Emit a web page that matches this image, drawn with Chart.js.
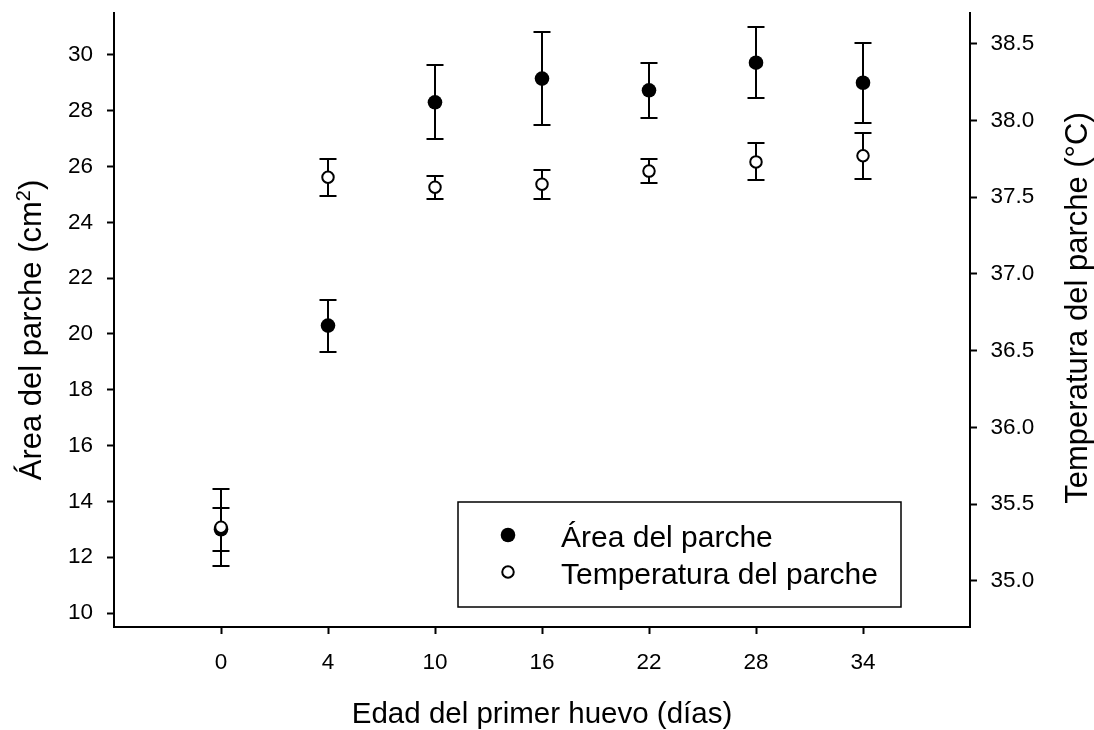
<!DOCTYPE html>
<html>
<head>
<meta charset="utf-8">
<title>Área y temperatura del parche</title>
<script src="https://cdn.jsdelivr.net/npm/chart.js@4.4.0/dist/chart.umd.min.js"></script>
<style>
  html, body { margin: 0; padding: 0; background: #fff; }
</style>
</head>
<body>
<canvas id="grafico" width="1094" height="730"></canvas>
<script>
// Edad del primer huevo (días)
var dias = ['0', '4', '10', '16', '22', '28', '34'];

// Área del parche (cm2): media y error
var area = [13.0, 20.3, 28.3, 29.15, 28.73, 29.72, 29.0];
var areaErr = [0.76, 0.93, 1.32, 1.67, 0.99, 1.27, 1.43];

// Temperatura del parche (°C): media y error
var temp = [35.35, 37.63, 37.565, 37.585, 37.67, 37.73, 37.77];
var tempErr = [0.25, 0.12, 0.075, 0.095, 0.076, 0.12, 0.15];

var areaTicks = [10, 12, 14, 16, 18, 20, 22, 24, 26, 28, 30];
var tempTicks = [35.0, 35.5, 36.0, 36.5, 37.0, 37.5, 38.0, 38.5];

var tituloX = 'Edad del primer huevo (días)';
var tituloArea = 'Área del parche (cm';
var tituloTemp = 'Temperatura del parche (°C)';

var fuente = '"Liberation Sans", Arial, Helvetica, sans-serif';

function puntos(valores) {
    return valores.map(function (v, i) { return { x: i, y: v }; });
}

// barras de error, debajo de los puntos
var barrasError = {
    id: 'barrasError',
    beforeDatasetsDraw: function (chart) {
        var ctx = chart.ctx;
        var sx = chart.scales.x;
        ctx.save();
        ctx.strokeStyle = '#000';
        ctx.lineWidth = 2;
        chart.data.datasets.forEach(function (ds) {
            var sy = chart.scales[ds.yAxisID];
            ds.data.forEach(function (p, i) {
                var px = Math.round(sx.getPixelForValue(p.x));
                var arriba = Math.round(sy.getPixelForValue(p.y + ds.err[i]));
                var abajo = Math.round(sy.getPixelForValue(p.y - ds.err[i]));
                ctx.beginPath();
                ctx.moveTo(px, arriba); ctx.lineTo(px, abajo);
                ctx.moveTo(px - 8.5, arriba); ctx.lineTo(px + 8.5, arriba);
                ctx.moveTo(px - 8.5, abajo); ctx.lineTo(px + 8.5, abajo);
                ctx.stroke();
            });
        });
        ctx.restore();
    }
};

// títulos de los ejes (el del área lleva el 2 en superíndice)
var titulos = {
    id: 'titulos',
    afterDraw: function (chart) {
        var ctx = chart.ctx;
        var a = chart.chartArea;
        var grande = '31px ' + fuente;
        var chica = '20px ' + fuente;
        ctx.save();
        ctx.fillStyle = '#000';
        ctx.textBaseline = 'alphabetic';

        ctx.font = '29.5px ' + fuente;
        ctx.textAlign = 'center';
        ctx.fillText(tituloX, (a.left + a.right) / 2, 723);

        ctx.font = grande;
        ctx.save();
        ctx.translate(1087, 308);
        ctx.rotate(-Math.PI / 2);
        ctx.fillText(tituloTemp, 0, 0);
        ctx.restore();

        ctx.save();
        ctx.translate(41, 330);
        ctx.rotate(-Math.PI / 2);
        ctx.textAlign = 'left';
        var w1 = ctx.measureText(tituloArea).width;
        ctx.font = chica;
        var w2 = ctx.measureText('2').width;
        ctx.font = grande;
        var w3 = ctx.measureText(')').width;
        var x = -(w1 + w2 + w3) / 2;
        ctx.fillText(tituloArea, x, 0);
        ctx.font = chica;
        ctx.fillText('2', x + w1, -11);
        ctx.font = grande;
        ctx.fillText(')', x + w1 + w2, 0);
        ctx.restore();
        ctx.restore();
    }
};

// leyenda en recuadro
var leyenda = {
    id: 'leyenda',
    afterDraw: function (chart) {
        var ctx = chart.ctx;
        var a = chart.chartArea;
        var x0 = a.left + 344, y0 = a.top + 489, w = 443, h = 105;
        ctx.save();
        ctx.strokeStyle = '#000';
        ctx.lineWidth = 1.5;
        ctx.strokeRect(x0, y0, w, h);
        ctx.font = '30px ' + fuente;
        ctx.textBaseline = 'alphabetic';
        ctx.textAlign = 'left';
        [chart.data.datasets[1], chart.data.datasets[0]].forEach(function (ds, k) {
            var y = y0 + 33 + k * 37;
            ctx.beginPath();
            ctx.arc(x0 + 50, y, ds.pointRadius, 0, Math.PI * 2);
            ctx.fillStyle = ds.pointBackgroundColor;
            ctx.fill();
            if (ds.pointBorderWidth) {
                ctx.lineWidth = ds.pointBorderWidth;
                ctx.strokeStyle = ds.pointBorderColor;
                ctx.stroke();
            }
            ctx.fillStyle = '#000';
            ctx.fillText(ds.label, x0 + 103, y + 11.5);
        });
        ctx.restore();
    }
};

function ejeY(pos, min, max, marcas, decimales, ancho, sep) {
    return {
        type: 'linear',
        position: pos,
        min: min,
        max: max,
        afterBuildTicks: function (s) {
            s.ticks = marcas.map(function (v) { return { value: v }; });
        },
        afterFit: function (s) {
            s.width = ancho;
            s.paddingTop = 0;
            s.paddingBottom = 0;
        },
        ticks: {
            color: '#000',
            padding: sep,
            font: { family: fuente, size: 22.5 },
            callback: function (v) { return v.toFixed(decimales); }
        },
        grid: { drawOnChartArea: false, tickLength: 7, tickWidth: 2, tickColor: '#000' },
        border: { color: '#000', width: 2 }
    };
}

new Chart(document.getElementById('grafico'), {
    type: 'scatter',
    data: {
        datasets: [{
            label: 'Temperatura del parche',
            data: puntos(temp),
            err: tempErr,
            yAxisID: 'yTemp',
            pointRadius: 5.75,
            pointBorderWidth: 2,
            pointBorderColor: '#000',
            pointBackgroundColor: '#fff'
        }, {
            label: 'Área del parche',
            data: puntos(area),
            err: areaErr,
            yAxisID: 'yArea',
            pointRadius: 7.3,
            pointBorderWidth: 0,
            pointBorderColor: '#000',
            pointBackgroundColor: '#000'
        }]
    },
    options: {
        responsive: false,
        animation: false,
        devicePixelRatio: 1,
        layout: { autoPadding: false, padding: { top: 13, left: 0, right: 0, bottom: 0 } },
        plugins: {
            legend: { display: false },
            tooltip: { enabled: false }
        },
        scales: {
            x: {
                type: 'linear',
                min: -1,
                max: dias.length,
                afterBuildTicks: function (s) {
                    s.ticks = dias.map(function (d, i) { return { value: i }; });
                },
                afterFit: function (s) {
                    s.height = 103;
                    s.paddingLeft = 0;
                    s.paddingRight = 0;
                },
                ticks: {
                    color: '#000',
                    padding: 15,
                    maxRotation: 0,
                    autoSkip: false,
                    font: { family: fuente, size: 22.5 },
                    callback: function (v) { return dias[v]; }
                },
                grid: { drawOnChartArea: false, tickLength: 7, tickWidth: 2, tickColor: '#000' },
                border: { color: '#000', width: 2 }
            },
            yArea: ejeY('left', 9.5, 31.5, areaTicks, 0, 114, 14),
            yTemp: ejeY('right', 34.7, 38.7, tempTicks, 1, 124, 13.5)
        }
    },
    plugins: [barrasError, titulos, leyenda]
});
</script>
</body>
</html>
